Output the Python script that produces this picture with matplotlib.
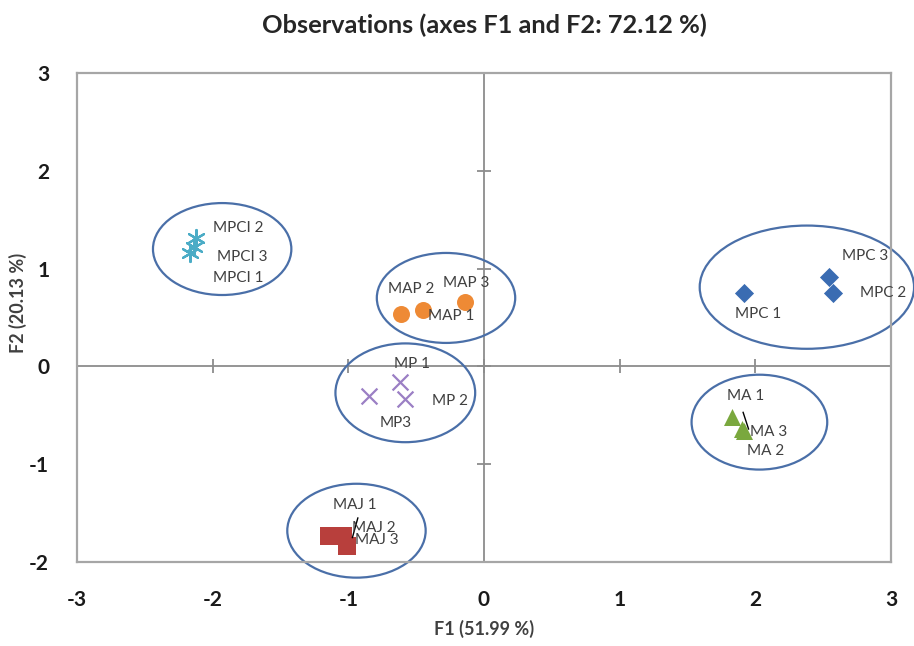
import matplotlib
matplotlib.use("Agg")
import matplotlib.pyplot as plt
from matplotlib.patches import Ellipse

plt.rcParams['font.family'] = ['Lato', 'DejaVu Sans']

# ---- data ----
mpc_x = [1.92, 2.57, 2.54]
mpc_y = [0.75, 0.75, 0.91]
mpci_x = [-2.17, -2.12, -2.14]
mpci_y = [1.16, 1.31, 1.22]
map_x = [-0.45, -0.61, -0.14]
map_y = [0.58, 0.54, 0.66]
mp_x = [-0.62, -0.58, -0.85]
mp_y = [-0.16, -0.33, -0.30]
maj_x = [-1.14, -1.04, -1.01]
maj_y = [-1.73, -1.73, -1.84]
ma_x = [1.83, 1.92, 1.90]
ma_y = [-0.52, -0.66, -0.64]

label_text = ["MPC 3", "MPC 2", "MPC 1",
              "MPCI 2", "MPCI 3", "MPCI 1",
              "MAP 2", "MAP 3", "MAP 1",
              "MP 1", "MP 2", "MP3",
              "MAJ 1", "MAJ 2", "MAJ 3",
              "MA 1", "MA 3", "MA 2"]
label_x = [2.64, 2.77, 1.85,
           -2.00, -1.97, -2.00,
           -0.71, -0.30, -0.41,
           -0.66, -0.38, -0.77,
           -1.11, -0.97, -0.95,
           1.79, 1.96, 1.94]
label_y = [1.13, 0.75, 0.54,
           1.42, 1.12, 0.90,
           0.79, 0.85, 0.52,
           0.02, -0.35, -0.58,
           -1.42, -1.65, -1.78,
           -0.30, -0.67, -0.86]

# group ellipses: center x, center y, width, height
ell_cx = [-1.93, -0.28, -0.58, -0.94, 2.38, 2.03]
ell_cy = [1.20, 0.70, -0.27, -1.68, 0.81, -0.57]
ell_w = [1.02, 1.02, 1.03, 1.02, 1.58, 1.00]
ell_h = [0.94, 0.92, 1.01, 0.96, 1.26, 0.97]

# leader lines (x0, x1), (y0, y1)
lead_x = [[-0.93, -0.97], [1.91, 1.95]]
lead_y = [[-1.55, -1.75], [-0.47, -0.64]]

xticks = [-3, -2, -1, 0, 1, 2, 3]
yticks = [-2, -1, 0, 1, 2, 3]

# ---- figure ----
fig = plt.figure(figsize=(9.14, 6.46), dpi=100)
ax = fig.add_axes([77/914, 84/646, 814/914, 489/646])
ax.set_xlim(-3, 3)
ax.set_ylim(-2, 3)

for s in ax.spines.values():
    s.set_color('#a6a6a6')
    s.set_linewidth(1.6)

# zero axes with cross ticks
ax.axhline(0, color='#8c8c8c', lw=1.3, zorder=1)
ax.axvline(0, color='#8c8c8c', lw=1.3, zorder=1)
ax.plot(xticks[1:-1], [0]*len(xticks[1:-1]), ls='none', marker='|', ms=10,
        mew=1.3, color='#8c8c8c', zorder=1)
ax.plot([0]*len(yticks[1:-1]), yticks[1:-1], ls='none', marker='_', ms=10,
        mew=1.3, color='#8c8c8c', zorder=1)

# ellipses
for cx, cy, w, h in zip(ell_cx, ell_cy, ell_w, ell_h):
    e = Ellipse((cx, cy), w, h, fill=False, edgecolor='#4a6fa8', lw=1.6,
                clip_on=False, zorder=2)
    ax.add_patch(e)

# markers
ax.scatter(mpc_x, mpc_y, marker='D', s=95, color='#3a6cb2', zorder=3, linewidths=0)
ax.scatter(mpci_x, mpci_y, marker=(6, 2, 0), s=150, color='#4bacc6', zorder=3, linewidths=1.6)
ax.scatter(map_x, map_y, marker='o', s=150, color='#ee8a35', zorder=3, linewidths=0)
ax.scatter(mp_x, mp_y, marker='x', s=130, color='#9b7fc4', zorder=3, linewidths=1.6)
ax.scatter(maj_x, maj_y, marker='s', s=150, color='#b83f3c', zorder=3, linewidths=0)
ax.scatter(ma_x, ma_y, marker='^', s=150, color='#7aa83e', zorder=3, linewidths=0)

for lx, ly in zip(lead_x, lead_y):
    ax.plot(lx, ly, color='black', lw=1.0, zorder=4)

for t, x, y in zip(label_text, label_x, label_y):
    ax.text(x, y, t, ha='left', va='center', fontsize=11, color='#404040', zorder=5)

ax.set_xticks(xticks)
ax.set_yticks(yticks)
ax.set_xticklabels([str(v) for v in xticks])
ax.set_yticklabels([str(v) for v in yticks])
ax.tick_params(axis='x', length=0, labelsize=15, labelcolor='#1a1a1a', pad=20)
ax.tick_params(axis='y', length=0, labelsize=15, labelcolor='#1a1a1a', pad=20)
for lab in ax.get_xticklabels() + ax.get_yticklabels():
    lab.set_fontweight('bold')

ax.set_xlabel('F1 (51.99 %)', fontsize=13, fontweight='bold', color='#404040')
ax.xaxis.set_label_coords(0.5, -0.118)
ax.set_ylabel('F2 (20.13 %)', fontsize=13, fontweight='bold', color='#404040')
ax.yaxis.set_label_coords(-0.062, 0.53)
ax.set_title('Observations (axes F1 and F2: 72.12 %)', fontsize=18.3, fontweight='bold',
             color='#262626', pad=29)

fig.savefig('out.png', dpi=100)
